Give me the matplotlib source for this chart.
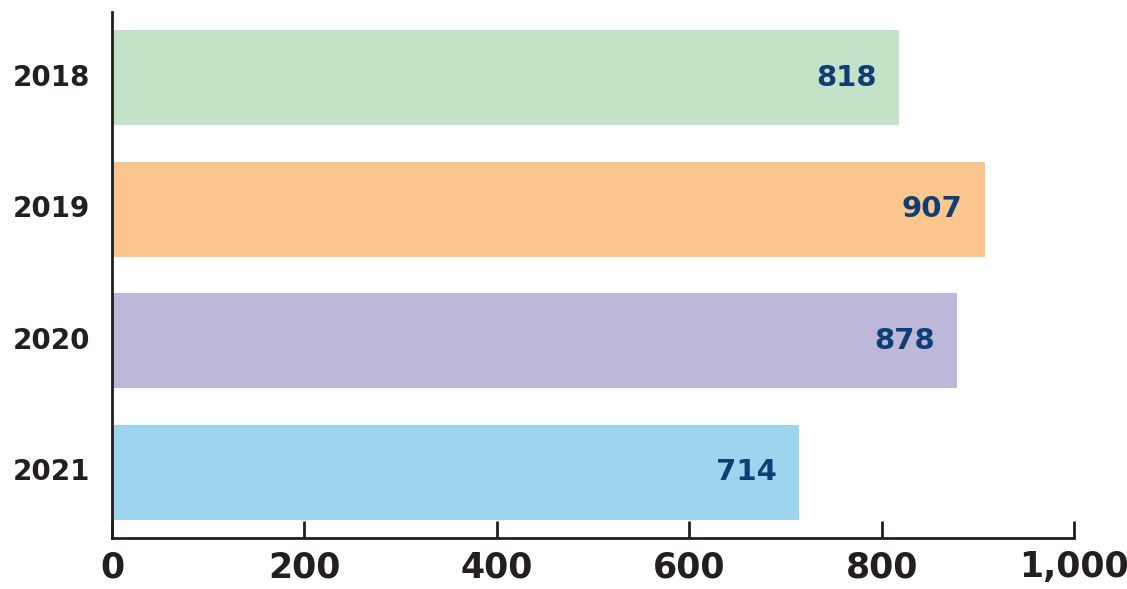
import matplotlib
matplotlib.use("Agg")
import matplotlib.pyplot as plt

years = ["2018", "2019", "2020", "2021"]
values = [818, 907, 878, 714]
colors = ["#c4e2c7", "#fbc68d", "#bdb8da", "#9dd5ef"]
xticks = [0, 200, 400, 600, 800, 1000]
xtick_labels = ["0", "200", "400", "600", "800", "1,000"]

plt.rcParams['font.family'] = ['DejaVu Sans']
fig = plt.figure(figsize=(11.27, 5.89), dpi=100)
ax = fig.add_axes([112/1127, (589-538)/589, (1074-112)/1127, (538-12)/589])

pos = list(range(len(years)))
ax.barh(pos, values, height=0.72, color=colors, edgecolor='none')
ax.set_ylim(3.5, -0.5)
ax.set_xlim(0, 1000)

for p, v in zip(pos, values):
    ax.annotate(f"{v:,}", xy=(v, p), xytext=(-22, 0), textcoords='offset pixels',
                ha='right', va='center', fontsize=21, fontweight='bold', color='#0e3e73')

ax.set_yticks(pos)
ax.set_yticklabels(years, fontsize=20, fontweight='bold', color='#231f20', va='center')
ax.set_xticks(xticks)
ax.set_xticklabels(xtick_labels, fontsize=25, fontweight='bold', color='#231f20')

ax.tick_params(axis='y', length=0, pad=16)
ax.tick_params(axis='x', direction='in', length=12, width=2, color='#231f20', pad=9)
for s in ['top', 'right']:
    ax.spines[s].set_visible(False)
for s in ['left', 'bottom']:
    ax.spines[s].set_linewidth(2)
    ax.spines[s].set_color('#231f20')

fig.savefig("out.png", dpi=100)
